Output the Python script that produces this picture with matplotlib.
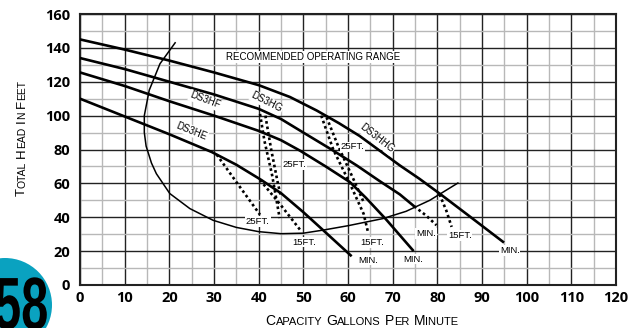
import matplotlib
matplotlib.use("Agg")
import matplotlib.pyplot as plt
from matplotlib.patches import Circle, PathPatch
from matplotlib.textpath import TextPath
from matplotlib.font_manager import FontProperties
from matplotlib.transforms import IdentityTransform, Affine2D

# pump curves (capacity gpm, head ft)
hhg_x = [0, 10, 20, 30, 40, 47, 53, 58, 62.6, 67, 71.6, 76, 80.5, 87, 94.7]
hhg_y = [145, 139, 132.5, 125.5, 118, 111, 103, 95.5, 88, 79.5, 70.6, 62.7, 54, 41, 25.5]
hg_x = [0, 10, 20, 30, 40, 45, 50, 56.6, 62, 67, 71.6, 74.8]
hg_y = [134, 127.5, 120, 112.5, 104, 98, 90, 79.5, 70.5, 61.5, 53.5, 46.5]
hf_x = [0, 10, 20, 30, 40, 45, 49.2, 55, 60.4, 64, 68.5, 74.5]
hf_y = [125.5, 117.5, 108.5, 100, 91, 85.5, 79.4, 70, 60.8, 51.5, 38.8, 20.6]
he_x = [0, 10, 20, 29.5, 35, 40.6, 45.1, 50, 55, 60.6]
he_y = [110, 99.5, 89, 78.5, 71, 62, 54, 43, 31, 17.5]

# recommended operating range boundary
rng_x = [21.3, 17.9, 15.5, 14.4, 14.4, 14.8, 16, 17.1, 20.1, 24.6, 29.8, 35, 40, 45, 50, 54.4, 60, 67.8, 73, 78.3, 84.6]
rng_y = [143, 130.6, 115, 100, 90, 82, 72, 65.7, 54, 45.1, 38.2, 34, 31.5, 30.3, 30.6, 32.4, 35, 39.2, 43.5, 50, 60.2]

# dotted submergence lines
dot_lines = [
    ([30.6, 35.5, 40.3], [77, 59, 41.5]),
    ([40.3, 45, 49.6], [62, 47, 31.5]),
    ([40.3, 41.3, 43, 44.7], [101, 85, 65, 39.5]),
    ([41.5, 42.8, 44.3, 45], [100, 80, 60, 52]),
    ([54, 56.7, 60.4, 63.5, 64.5], [100, 80, 60, 42, 31]),
    ([55.2, 57.8, 61.3, 63.5], [99, 82, 62, 49]),
    ([74.8, 77.5, 79.8], [46.5, 41, 35.3]),
    ([80.5, 82, 83.2], [53.5, 44, 34.3]),
]

curve_names = ["DS3HE", "DS3HF", "DS3HG", "DS3HHG"]
name_x = [25, 28, 41.8, 66.4]
name_y = [91, 109, 108, 86.5]
name_rot = [-22, -21, -27, -38]

note_text = ["25FT.", "15FT.", "25FT.", "25FT.", "15FT.", "MIN.", "15FT.", "MIN.", "MIN.", "MIN."]
note_x = [39.8, 50.1, 48, 61, 65.3, 77.5, 85, 64.6, 74.7, 96.2]
note_y = [37.6, 25.3, 71, 81.5, 25, 30.4, 29.4, 14.7, 15.3, 20.2]

xticks = list(range(0, 121, 10))
yticks = list(range(0, 161, 20))

LBL = "Liberation Sans"

fig = plt.figure(figsize=(6.4, 3.28), dpi=100)
ax = fig.add_axes([80 / 640, 1 - 285 / 328, 536 / 640, 271 / 328])
ax.set_xlim(0, 120)
ax.set_ylim(0, 160)
ax.set_xticks(xticks)
ax.set_yticks(yticks)
ax.set_xticks(range(5, 120, 10), minor=True)
ax.set_yticks(range(10, 160, 20), minor=True)
ax.grid(which="major", color="#222222", lw=1.0)
ax.grid(which="minor", color="#b8b8b8", lw=1.0)
ax.set_axisbelow(True)
ax.tick_params(which="both", length=0)
ax.tick_params(axis="x", pad=4)
ax.tick_params(axis="y", pad=7)
for lab in ax.get_xticklabels() + ax.get_yticklabels():
    lab.set_fontfamily("Open Sans")
    lab.set_fontweight("bold")
    lab.set_fontsize(10.5)
for sp in ax.spines.values():
    sp.set_linewidth(1.5)
    sp.set_color("#222222")

for xs, ys in [(hhg_x, hhg_y), (hg_x, hg_y), (hf_x, hf_y), (he_x, he_y)]:
    ax.plot(xs, ys, color="black", lw=1.9, solid_joinstyle="round", zorder=3)
ax.plot(rng_x, rng_y, color="black", lw=1.1, zorder=3)
for xs, ys in dot_lines:
    ax.plot(xs, ys, color="black", lw=1.9, linestyle=(0, (1, 1.1)), zorder=3)

box = dict(facecolor="white", edgecolor="none", pad=0.6)
ax.text(52.3, 134.5, "RECOMMENDED OPERATING RANGE", fontsize=7, family=LBL,
        ha="center", va="center", bbox=box, zorder=4)
for s, x, y, r in zip(curve_names, name_x, name_y, name_rot):
    ax.text(x, y, s, fontsize=7, family=LBL, ha="center", va="center",
            rotation=r, bbox=box, zorder=4)
for s, x, y in zip(note_text, note_x, note_y):
    ax.text(x, y, s, fontsize=6.8, family=LBL, ha="center", va="center",
            bbox=box, zorder=4)

# page badge, condensed bold digits squeezed from a text path
fig.add_artist(Circle((5, 23), 47, transform=IdentityTransform(),
                      facecolor="#0aa2c0", edgecolor="none", clip_on=False))
tp = TextPath((0, 0), "58", size=74, prop=FontProperties(family=LBL, weight="bold"))
fig.add_artist(PathPatch(tp, transform=Affine2D().scale(0.66, 1).translate(-6, -1),
                         facecolor="black", edgecolor="none", clip_on=False))


def smallcaps(x, y, text, big, small, rotation=0):
    r = fig.canvas.get_renderer()
    parts = []
    for i, word in enumerate(text.split()):
        if i:
            parts.append((" ", big))
        parts.append((word[0], big))
        parts.append((word[1:].upper(), small))
    widths = []
    for s, fs in parts:
        if s == " ":
            widths.append(0.3 * fs * 100 / 72)
            continue
        t = fig.text(0, 0, s, fontsize=fs, family=LBL, transform=IdentityTransform())
        widths.append(t.get_window_extent(r).width)
        t.remove()
    pos = -sum(widths) / 2
    for (s, fs), w in zip(parts, widths):
        if s != " ":
            if rotation == 90:
                fig.text(x, y + pos, s, fontsize=fs, family=LBL, rotation=90,
                         rotation_mode="anchor", ha="left", va="baseline",
                         transform=IdentityTransform())
            else:
                fig.text(x + pos, y, s, fontsize=fs, family=LBL, ha="left",
                         va="baseline", transform=IdentityTransform())
        pos += w


smallcaps(362, 3, "Capacity Gallons Per Minute", 10, 8)
smallcaps(25, 190, "Total Head In Feet", 9.5, 7.5, rotation=90)

fig.savefig("out.png", dpi=100)
